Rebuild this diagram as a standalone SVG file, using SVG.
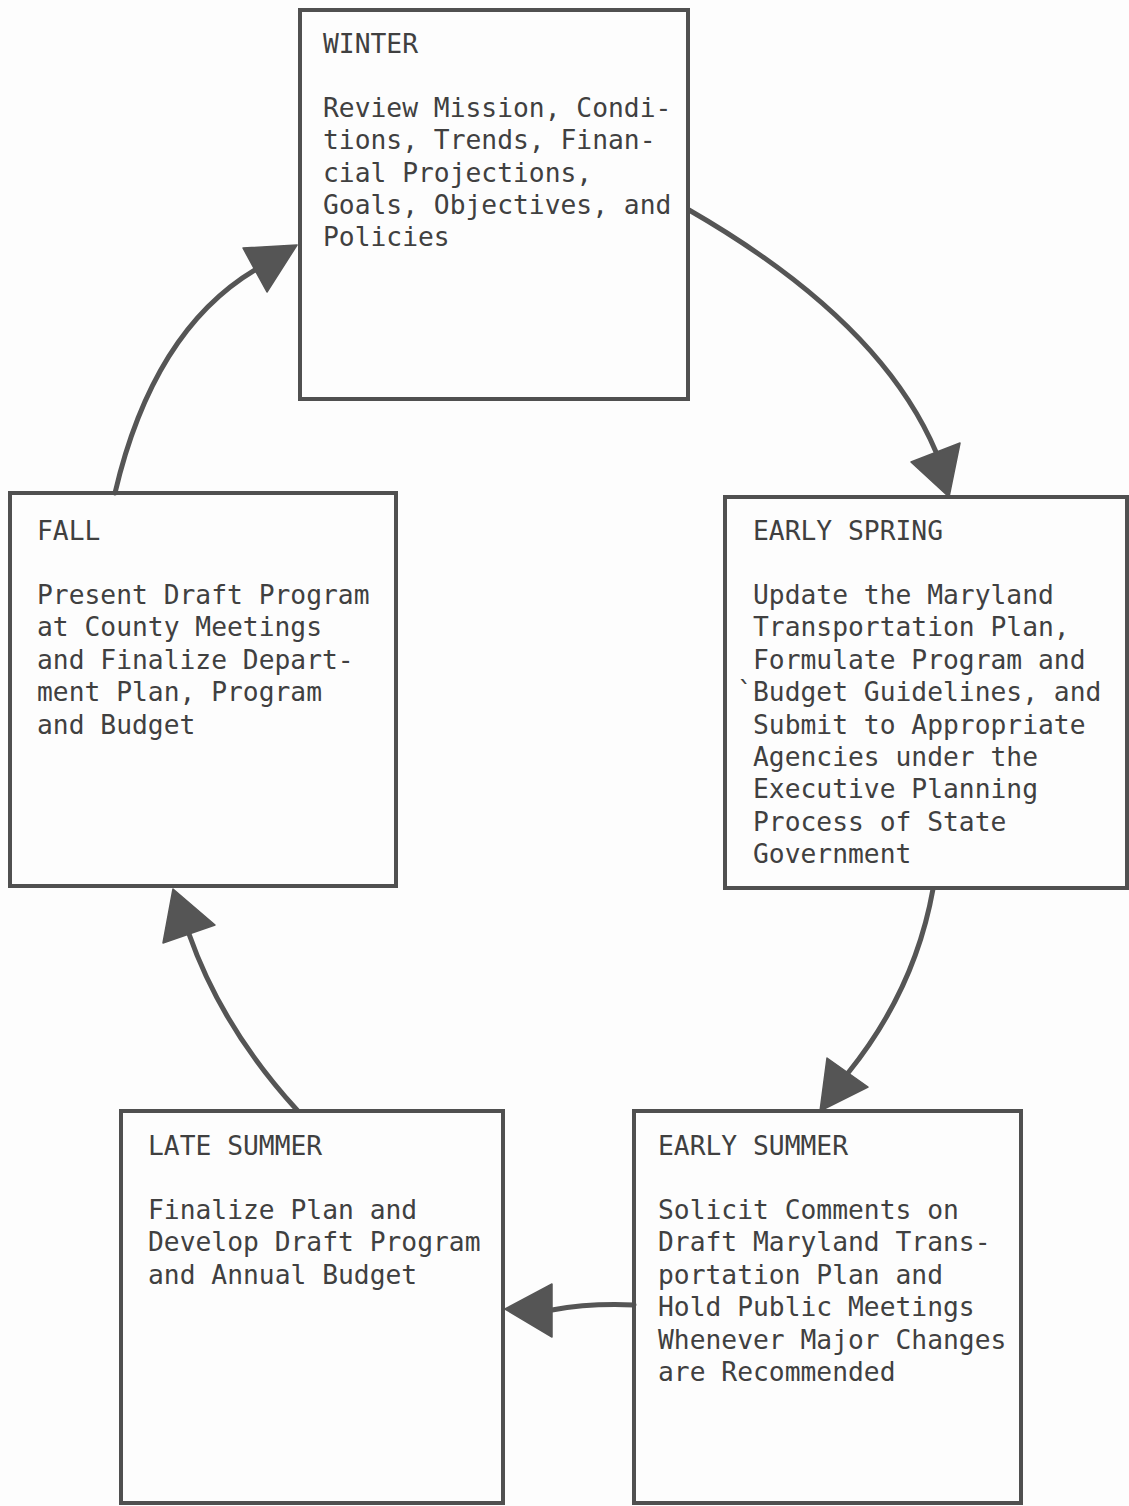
<svg xmlns="http://www.w3.org/2000/svg" width="1129" height="1506" viewBox="0 0 1129 1506">
<style>
.box{fill:none;stroke:#505050;stroke-width:4}
.t{font-family:"DejaVu Sans Mono","Liberation Mono",monospace;font-size:26.3px;fill:#404040}
.c{fill:none;stroke:#555;stroke-width:5;stroke-linecap:round}
.ah{fill:#555;stroke:#555;stroke-width:1.5;stroke-linejoin:round}
</style>
<rect x="0" y="0" width="1129" height="1506" fill="#fdfdfd"/>
<g id="connectors">
<path class="c" d="M689,210 Q880,320 936,452"/>
<polygon class="ah" points="911,462 960,443 949,497"/>
<path class="c" d="M933,889 Q915,990 848,1073"/>
<polygon class="ah" points="827,1058 868,1087 820,1111"/>
<path class="c" d="M634,1305 Q590,1303 552,1310"/>
<polygon class="ah" points="552,1284 552,1337 505,1309"/>
<path class="c" d="M297,1110 Q222,1028 189,934"/>
<polygon class="ah" points="173,889 163,943 215,925"/>
<path class="c" d="M115,493 Q153,331 255,270"/>
<polygon class="ah" points="297,245 243,248 267,292"/>
</g>
<g id="winter">
<rect class="box" x="300" y="10" width="388" height="389"/>
<text class="t" x="323" y="53">WINTER</text>
<text class="t" y="117"><tspan x="323">Review Mission, Condi-</tspan><tspan x="323" dy="32.3">tions, Trends, Finan-</tspan><tspan x="323" dy="32.3">cial Projections,</tspan><tspan x="323" dy="32.3">Goals, Objectives, and</tspan><tspan x="323" dy="32.3">Policies</tspan></text>
</g>
<g id="early-spring">
<rect class="box" x="725" y="497" width="402" height="391"/>
<text class="t" x="753" y="540">EARLY SPRING</text>
<text class="t" x="737" y="701.2">`</text>
<text class="t" y="604"><tspan x="753">Update the Maryland</tspan><tspan x="753" dy="32.4">Transportation Plan,</tspan><tspan x="753" dy="32.4">Formulate Program and</tspan><tspan x="753" dy="32.4">Budget Guidelines, and</tspan><tspan x="753" dy="32.4">Submit to Appropriate</tspan><tspan x="753" dy="32.4">Agencies under the</tspan><tspan x="753" dy="32.4">Executive Planning</tspan><tspan x="753" dy="32.4">Process of State</tspan><tspan x="753" dy="32.4">Government</tspan></text>
</g>
<g id="fall">
<rect class="box" x="10" y="493" width="386" height="393"/>
<text class="t" x="37" y="540">FALL</text>
<text class="t" y="604"><tspan x="37">Present Draft Program</tspan><tspan x="37" dy="32.4">at County Meetings</tspan><tspan x="37" dy="32.4">and Finalize Depart-</tspan><tspan x="37" dy="32.4">ment Plan, Program</tspan><tspan x="37" dy="32.4">and Budget</tspan></text>
</g>
<g id="late-summer">
<rect class="box" x="121" y="1111" width="382" height="392"/>
<text class="t" x="148" y="1155">LATE SUMMER</text>
<text class="t" y="1219"><tspan x="148">Finalize Plan and</tspan><tspan x="148" dy="32.4">Develop Draft Program</tspan><tspan x="148" dy="32.4">and Annual Budget</tspan></text>
</g>
<g id="early-summer">
<rect class="box" x="634" y="1111" width="387" height="392"/>
<text class="t" x="658" y="1155">EARLY SUMMER</text>
<text class="t" y="1219"><tspan x="658">Solicit Comments on</tspan><tspan x="658" dy="32.4">Draft Maryland Trans-</tspan><tspan x="658" dy="32.4">portation Plan and</tspan><tspan x="658" dy="32.4">Hold Public Meetings</tspan><tspan x="658" dy="32.4">Whenever Major Changes</tspan><tspan x="658" dy="32.4">are Recommended</tspan></text>
</g>
</svg>
